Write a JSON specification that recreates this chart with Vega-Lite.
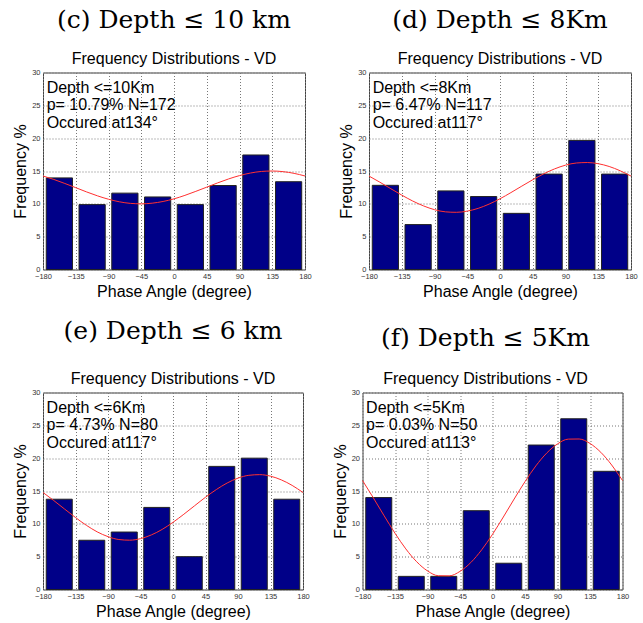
{
  "$schema": "https://vega.github.io/schema/vega-lite/v6.json",
  "background": "white",
  "padding": {"top": 7.5, "left": 12, "right": 0, "bottom": 0},
  "config": {
    "view": {"stroke": "#444", "strokeWidth": 1},
    "font": "Liberation Sans",
    "axis": {"labelFont": "Liberation Sans", "labelFontSize": 7.5, "labelColor": "#333", "titleFont": "Liberation Sans", "titleFontSize": 16, "titleFontWeight": "normal", "titleColor": "#000", "grid": true, "gridColor": "#777", "gridDash": [1, 2], "domain": false, "ticks": false, "labelPadding": 3, "titlePadding": 3, "labelFlush": false, "labelOverlap": false},
    "title": {"font": "DejaVu Serif", "fontSize": 25, "fontWeight": "normal", "color": "#000", "subtitleFont": "Liberation Sans", "subtitleFontSize": 16, "subtitleColor": "#000", "anchor": "middle", "offset": 1.5, "subtitlePadding": 18}
  },
  "datasets": {
    "bars": [
      {"p": "c", "x0": -175.5, "x1": -139.5, "f": 13.95},
      {"p": "c", "x0": -130.5, "x1": -94.5, "f": 9.88},
      {"p": "c", "x0": -85.5, "x1": -49.5, "f": 11.63},
      {"p": "c", "x0": -40.5, "x1": -4.5, "f": 11.05},
      {"p": "c", "x0": 4.5, "x1": 40.5, "f": 9.88},
      {"p": "c", "x0": 49.5, "x1": 85.5, "f": 12.79},
      {"p": "c", "x0": 94.5, "x1": 130.5, "f": 17.44},
      {"p": "c", "x0": 139.5, "x1": 175.5, "f": 13.37},
      {"p": "d", "x0": -175.5, "x1": -139.5, "f": 12.82},
      {"p": "d", "x0": -130.5, "x1": -94.5, "f": 6.84},
      {"p": "d", "x0": -85.5, "x1": -49.5, "f": 11.97},
      {"p": "d", "x0": -40.5, "x1": -4.5, "f": 11.11},
      {"p": "d", "x0": 4.5, "x1": 40.5, "f": 8.55},
      {"p": "d", "x0": 49.5, "x1": 85.5, "f": 14.53},
      {"p": "d", "x0": 94.5, "x1": 130.5, "f": 19.66},
      {"p": "d", "x0": 139.5, "x1": 175.5, "f": 14.53},
      {"p": "e", "x0": -175.5, "x1": -139.5, "f": 13.75},
      {"p": "e", "x0": -130.5, "x1": -94.5, "f": 7.5},
      {"p": "e", "x0": -85.5, "x1": -49.5, "f": 8.75},
      {"p": "e", "x0": -40.5, "x1": -4.5, "f": 12.5},
      {"p": "e", "x0": 4.5, "x1": 40.5, "f": 5},
      {"p": "e", "x0": 49.5, "x1": 85.5, "f": 18.75},
      {"p": "e", "x0": 94.5, "x1": 130.5, "f": 20},
      {"p": "e", "x0": 139.5, "x1": 175.5, "f": 13.75},
      {"p": "f", "x0": -175.5, "x1": -139.5, "f": 14},
      {"p": "f", "x0": -130.5, "x1": -94.5, "f": 2},
      {"p": "f", "x0": -85.5, "x1": -49.5, "f": 2},
      {"p": "f", "x0": -40.5, "x1": -4.5, "f": 12},
      {"p": "f", "x0": 4.5, "x1": 40.5, "f": 4},
      {"p": "f", "x0": 49.5, "x1": 85.5, "f": 22},
      {"p": "f", "x0": 94.5, "x1": 130.5, "f": 26},
      {"p": "f", "x0": 139.5, "x1": 175.5, "f": 18}
    ],
    "fit": [
      {"p": "c", "a": -180, "v": 14.24}, {"p": "c", "a": -165, "v": 13.71}, {"p": "c", "a": -150, "v": 13.10}, {"p": "c", "a": -135, "v": 12.46}, {"p": "c", "a": -120, "v": 11.81}, {"p": "c", "a": -105, "v": 11.21}, {"p": "c", "a": -90, "v": 10.70}, {"p": "c", "a": -75, "v": 10.31}, {"p": "c", "a": -60, "v": 10.07}, {"p": "c", "a": -45, "v": 10.00}, {"p": "c", "a": -30, "v": 10.10}, {"p": "c", "a": -15, "v": 10.36}, {"p": "c", "a": 0, "v": 10.76}, {"p": "c", "a": 15, "v": 11.29}, {"p": "c", "a": 30, "v": 11.90}, {"p": "c", "a": 45, "v": 12.54}, {"p": "c", "a": 60, "v": 13.19}, {"p": "c", "a": 75, "v": 13.79}, {"p": "c", "a": 90, "v": 14.30}, {"p": "c", "a": 105, "v": 14.69}, {"p": "c", "a": 120, "v": 14.93}, {"p": "c", "a": 135, "v": 15.00}, {"p": "c", "a": 150, "v": 14.90}, {"p": "c", "a": 165, "v": 14.64}, {"p": "c", "a": 180, "v": 14.24},
      {"p": "d", "a": -180, "v": 14.23}, {"p": "d", "a": -165, "v": 13.29}, {"p": "d", "a": -150, "v": 12.30}, {"p": "d", "a": -135, "v": 11.33}, {"p": "d", "a": -120, "v": 10.43}, {"p": "d", "a": -105, "v": 9.68}, {"p": "d", "a": -90, "v": 9.11}, {"p": "d", "a": -75, "v": 8.78}, {"p": "d", "a": -60, "v": 8.71}, {"p": "d", "a": -45, "v": 8.89}, {"p": "d", "a": -30, "v": 9.31}, {"p": "d", "a": -15, "v": 9.96}, {"p": "d", "a": 0, "v": 10.77}, {"p": "d", "a": 15, "v": 11.71}, {"p": "d", "a": 30, "v": 12.70}, {"p": "d", "a": 45, "v": 13.67}, {"p": "d", "a": 60, "v": 14.57}, {"p": "d", "a": 75, "v": 15.32}, {"p": "d", "a": 90, "v": 15.89}, {"p": "d", "a": 105, "v": 16.22}, {"p": "d", "a": 120, "v": 16.29}, {"p": "d", "a": 135, "v": 16.11}, {"p": "d", "a": 150, "v": 15.69}, {"p": "d", "a": 165, "v": 15.04}, {"p": "d", "a": 180, "v": 14.23},
      {"p": "e", "a": -180, "v": 14.77}, {"p": "e", "a": -165, "v": 13.54}, {"p": "e", "a": -150, "v": 12.24}, {"p": "e", "a": -135, "v": 10.96}, {"p": "e", "a": -120, "v": 9.78}, {"p": "e", "a": -105, "v": 8.78}, {"p": "e", "a": -90, "v": 8.05}, {"p": "e", "a": -75, "v": 7.61}, {"p": "e", "a": -60, "v": 7.51}, {"p": "e", "a": -45, "v": 7.74}, {"p": "e", "a": -30, "v": 8.31}, {"p": "e", "a": -15, "v": 9.15}, {"p": "e", "a": 0, "v": 10.23}, {"p": "e", "a": 15, "v": 11.46}, {"p": "e", "a": 30, "v": 12.76}, {"p": "e", "a": 45, "v": 14.05}, {"p": "e", "a": 60, "v": 15.22}, {"p": "e", "a": 75, "v": 16.22}, {"p": "e", "a": 90, "v": 16.96}, {"p": "e", "a": 105, "v": 17.39}, {"p": "e", "a": 120, "v": 17.49}, {"p": "e", "a": 135, "v": 17.26}, {"p": "e", "a": 150, "v": 16.69}, {"p": "e", "a": 165, "v": 15.85}, {"p": "e", "a": 180, "v": 14.77},
      {"p": "f", "a": -180, "v": 16.60}, {"p": "f", "a": -165, "v": 13.96}, {"p": "f", "a": -150, "v": 11.22}, {"p": "f", "a": -135, "v": 8.57}, {"p": "f", "a": -120, "v": 6.18}, {"p": "f", "a": -105, "v": 4.23}, {"p": "f", "a": -90, "v": 2.83}, {"p": "f", "a": -75, "v": 2.10}, {"p": "f", "a": -60, "v": 2.08}, {"p": "f", "a": -45, "v": 2.76}, {"p": "f", "a": -30, "v": 4.11}, {"p": "f", "a": -15, "v": 6.04}, {"p": "f", "a": 0, "v": 8.40}, {"p": "f", "a": 15, "v": 11.04}, {"p": "f", "a": 30, "v": 13.78}, {"p": "f", "a": 45, "v": 16.43}, {"p": "f", "a": 60, "v": 18.82}, {"p": "f", "a": 75, "v": 20.77}, {"p": "f", "a": 90, "v": 22.17}, {"p": "f", "a": 105, "v": 22.90}, {"p": "f", "a": 120, "v": 22.92}, {"p": "f", "a": 135, "v": 22.24}, {"p": "f", "a": 150, "v": 20.89}, {"p": "f", "a": 165, "v": 18.96}, {"p": "f", "a": 180, "v": 16.60}
    ],
    "notes": [
      {"p": "c", "t": "Depth <=10Km", "x": -175, "y": 26.9},
      {"p": "c", "t": "p= 10.79% N=172", "x": -175, "y": 24.25},
      {"p": "c", "t": "Occured at134°", "x": -175, "y": 21.6},
      {"p": "d", "t": "Depth <=8Km", "x": -175, "y": 26.9},
      {"p": "d", "t": "p= 6.47% N=117", "x": -175, "y": 24.25},
      {"p": "d", "t": "Occured at117°", "x": -175, "y": 21.6},
      {"p": "e", "t": "Depth <=6Km", "x": -175, "y": 26.9},
      {"p": "e", "t": "p= 4.73% N=80", "x": -175, "y": 24.25},
      {"p": "e", "t": "Occured at117°", "x": -175, "y": 21.6},
      {"p": "f", "t": "Depth <=5Km", "x": -175, "y": 26.9},
      {"p": "f", "t": "p= 0.03% N=50", "x": -175, "y": 24.25},
      {"p": "f", "t": "Occured at113°", "x": -175, "y": 21.6}
    ]
  },
  "spacing": 19,
  "vconcat": [
    {
      "hconcat": [
        {
          "width": 262, "height": 197,
          "title": {"text": "(c) Depth ≤ 10 km", "subtitle": "Frequency Distributions - VD"},
          "layer": [
            {"data": {"name": "bars"}, "transform": [{"filter": "datum.p === 'c'"}], "mark": {"type": "bar", "fill": "#000088", "stroke": "#222", "strokeWidth": 1}, "encoding": {"x": {"field": "x0", "type": "quantitative", "scale": {"domain": [-180, 180], "nice": false}, "axis": {"values": [-180, -135, -90, -45, 0, 45, 90, 135, 180]}, "title": "Phase Angle (degree)"}, "x2": {"field": "x1"}, "y": {"field": "f", "type": "quantitative", "scale": {"domain": [0, 30], "nice": false}, "axis": {"values": [0, 5, 10, 15, 20, 25, 30]}, "title": "Frequency %"}, "y2": {"datum": 0}}},
            {"data": {"name": "fit"}, "transform": [{"filter": "datum.p === 'c'"}], "mark": {"type": "line", "color": "#ff3030", "strokeWidth": 1, "interpolate": "monotone"}, "encoding": {"x": {"field": "a", "type": "quantitative", "axis": {"values": [-180, -135, -90, -45, 0, 45, 90, 135, 180]}, "title": "Phase Angle (degree)"}, "y": {"field": "v", "type": "quantitative", "axis": {"values": [0, 5, 10, 15, 20, 25, 30]}, "title": "Frequency %"}}},
            {"data": {"name": "notes"}, "transform": [{"filter": "datum.p === 'c'"}], "mark": {"type": "text", "align": "left", "baseline": "alphabetic", "fontSize": 16, "font": "Liberation Sans", "color": "#000"}, "encoding": {"x": {"field": "x", "type": "quantitative", "axis": {"values": [-180, -135, -90, -45, 0, 45, 90, 135, 180]}, "title": "Phase Angle (degree)"}, "y": {"field": "y", "type": "quantitative", "axis": {"values": [0, 5, 10, 15, 20, 25, 30]}, "title": "Frequency %"}, "text": {"field": "t"}}}
          ]
        },
        {
          "width": 262, "height": 197,
          "title": {"text": "(d) Depth ≤ 8Km", "subtitle": "Frequency Distributions - VD"},
          "layer": [
            {"data": {"name": "bars"}, "transform": [{"filter": "datum.p === 'd'"}], "mark": {"type": "bar", "fill": "#000088", "stroke": "#222", "strokeWidth": 1}, "encoding": {"x": {"field": "x0", "type": "quantitative", "scale": {"domain": [-180, 180], "nice": false}, "axis": {"values": [-180, -135, -90, -45, 0, 45, 90, 135, 180]}, "title": "Phase Angle (degree)"}, "x2": {"field": "x1"}, "y": {"field": "f", "type": "quantitative", "scale": {"domain": [0, 30], "nice": false}, "axis": {"values": [0, 5, 10, 15, 20, 25, 30]}, "title": "Frequency %"}, "y2": {"datum": 0}}},
            {"data": {"name": "fit"}, "transform": [{"filter": "datum.p === 'd'"}], "mark": {"type": "line", "color": "#ff3030", "strokeWidth": 1, "interpolate": "monotone"}, "encoding": {"x": {"field": "a", "type": "quantitative", "axis": {"values": [-180, -135, -90, -45, 0, 45, 90, 135, 180]}, "title": "Phase Angle (degree)"}, "y": {"field": "v", "type": "quantitative", "axis": {"values": [0, 5, 10, 15, 20, 25, 30]}, "title": "Frequency %"}}},
            {"data": {"name": "notes"}, "transform": [{"filter": "datum.p === 'd'"}], "mark": {"type": "text", "align": "left", "baseline": "alphabetic", "fontSize": 16, "font": "Liberation Sans", "color": "#000"}, "encoding": {"x": {"field": "x", "type": "quantitative", "axis": {"values": [-180, -135, -90, -45, 0, 45, 90, 135, 180]}, "title": "Phase Angle (degree)"}, "y": {"field": "y", "type": "quantitative", "axis": {"values": [0, 5, 10, 15, 20, 25, 30]}, "title": "Frequency %"}, "text": {"field": "t"}}}
          ]
        }
      ],
      "spacing": 26
    },
    {
      "hconcat": [
        {
          "width": 260, "height": 197,
          "title": {"text": "(e) Depth ≤ 6 km", "subtitle": "Frequency Distributions - VD", "subtitlePadding": 27},
          "layer": [
            {"data": {"name": "bars"}, "transform": [{"filter": "datum.p === 'e'"}], "mark": {"type": "bar", "fill": "#000088", "stroke": "#222", "strokeWidth": 1}, "encoding": {"x": {"field": "x0", "type": "quantitative", "scale": {"domain": [-180, 180], "nice": false}, "axis": {"values": [-180, -135, -90, -45, 0, 45, 90, 135, 180]}, "title": "Phase Angle (degree)"}, "x2": {"field": "x1"}, "y": {"field": "f", "type": "quantitative", "scale": {"domain": [0, 30], "nice": false}, "axis": {"values": [0, 5, 10, 15, 20, 25, 30]}, "title": "Frequency %"}, "y2": {"datum": 0}}},
            {"data": {"name": "fit"}, "transform": [{"filter": "datum.p === 'e'"}], "mark": {"type": "line", "color": "#ff3030", "strokeWidth": 1, "interpolate": "monotone"}, "encoding": {"x": {"field": "a", "type": "quantitative", "axis": {"values": [-180, -135, -90, -45, 0, 45, 90, 135, 180]}, "title": "Phase Angle (degree)"}, "y": {"field": "v", "type": "quantitative", "axis": {"values": [0, 5, 10, 15, 20, 25, 30]}, "title": "Frequency %"}}},
            {"data": {"name": "notes"}, "transform": [{"filter": "datum.p === 'e'"}], "mark": {"type": "text", "align": "left", "baseline": "alphabetic", "fontSize": 16, "font": "Liberation Sans", "color": "#000"}, "encoding": {"x": {"field": "x", "type": "quantitative", "axis": {"values": [-180, -135, -90, -45, 0, 45, 90, 135, 180]}, "title": "Phase Angle (degree)"}, "y": {"field": "y", "type": "quantitative", "axis": {"values": [0, 5, 10, 15, 20, 25, 30]}, "title": "Frequency %"}, "text": {"field": "t"}}}
          ]
        },
        {
          "width": 260, "height": 197,
          "title": {"text": "(f) Depth ≤ 5Km", "subtitle": "Frequency Distributions - VD", "subtitlePadding": 20.5, "dx": -7},
          "layer": [
            {"data": {"name": "bars"}, "transform": [{"filter": "datum.p === 'f'"}], "mark": {"type": "bar", "fill": "#000088", "stroke": "#222", "strokeWidth": 1}, "encoding": {"x": {"field": "x0", "type": "quantitative", "scale": {"domain": [-180, 180], "nice": false}, "axis": {"values": [-180, -135, -90, -45, 0, 45, 90, 135, 180]}, "title": "Phase Angle (degree)"}, "x2": {"field": "x1"}, "y": {"field": "f", "type": "quantitative", "scale": {"domain": [0, 30], "nice": false}, "axis": {"values": [0, 5, 10, 15, 20, 25, 30]}, "title": "Frequency %"}, "y2": {"datum": 0}}},
            {"data": {"name": "fit"}, "transform": [{"filter": "datum.p === 'f'"}], "mark": {"type": "line", "color": "#ff3030", "strokeWidth": 1, "interpolate": "monotone"}, "encoding": {"x": {"field": "a", "type": "quantitative", "axis": {"values": [-180, -135, -90, -45, 0, 45, 90, 135, 180]}, "title": "Phase Angle (degree)"}, "y": {"field": "v", "type": "quantitative", "axis": {"values": [0, 5, 10, 15, 20, 25, 30]}, "title": "Frequency %"}}},
            {"data": {"name": "notes"}, "transform": [{"filter": "datum.p === 'f'"}], "mark": {"type": "text", "align": "left", "baseline": "alphabetic", "fontSize": 16, "font": "Liberation Sans", "color": "#000"}, "encoding": {"x": {"field": "x", "type": "quantitative", "axis": {"values": [-180, -135, -90, -45, 0, 45, 90, 135, 180]}, "title": "Phase Angle (degree)"}, "y": {"field": "y", "type": "quantitative", "axis": {"values": [0, 5, 10, 15, 20, 25, 30]}, "title": "Frequency %"}, "text": {"field": "t"}}}
          ]
        }
      ],
      "spacing": 21.5
    }
  ]
}
